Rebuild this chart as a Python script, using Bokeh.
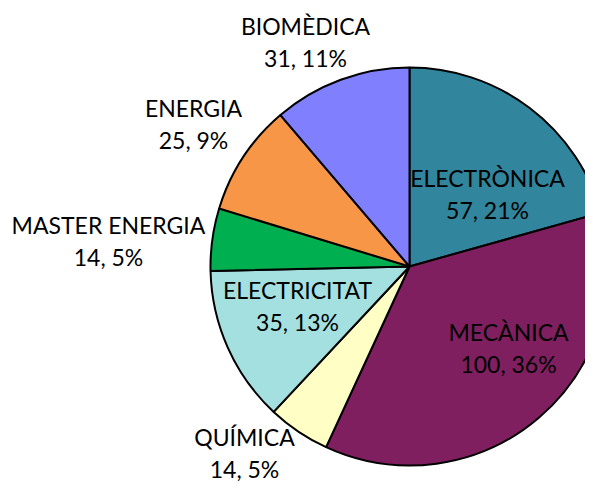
import numpy as np
from bokeh.plotting import figure
from bokeh.models import Range1d, ColumnDataSource
from bokeh.core.properties import value
from bokeh.embed import file_html
from bokeh.resources import INLINE

categories = ["ELECTRÒNICA", "MECÀNICA", "QUÍMICA", "ELECTRICITAT",
              "MASTER ENERGIA", "ENERGIA", "BIOMÈDICA"]
counts = [57, 100, 14, 35, 14, 25, 31]
colors = ["#31859C", "#7F1F5F", "#FFFFC5", "#A5E0E0",
          "#00B050", "#F79646", "#8080FF"]

# label anchor (pixel coordinates from top-left: centre x, middle of first line)
label_x = [487, 508, 244, 297, 108, 193, 305]
label_y = [177, 331, 436, 289, 224, 107, 25]
line_gap = 32

W, H = 585, 484
cx, cy, r = 409, 266, 199

def py(yp):
    return H - yp

vals = np.array(counts, dtype=float)
frac = vals / vals.sum()
cum = np.concatenate([[0], np.cumsum(frac)])
start = np.pi / 2 - 2 * np.pi * cum[1:]
end = np.pi / 2 - 2 * np.pi * cum[:-1]

src = ColumnDataSource(dict(start=start, end=end, color=colors))

p = figure(width=W, height=H, output_backend="svg", toolbar_location=None,
           x_range=Range1d(0, W), y_range=Range1d(0, H),
           min_border=0)
p.axis.visible = False
p.grid.visible = False
p.outline_line_color = None
p.background_fill_color = "white"

p.wedge(x=cx, y=py(cy), radius=r, start_angle="start", end_angle="end",
        fill_color="color", line_color="black", line_width=2, source=src)

pct = [f"{c}, {round(f*100)}%" for c, f in zip(counts, frac)]
tx = label_x + label_x
ty = [py(y) for y in label_y] + [py(y + line_gap) for y in label_y]
tt = categories + pct
p.text(x=tx, y=ty, text=tt, text_align="center", text_baseline="middle",
       text_font=value("Lato"), text_font_size="23px", text_color="#000000")

open("out.html", "w").write(file_html(p, INLINE))
